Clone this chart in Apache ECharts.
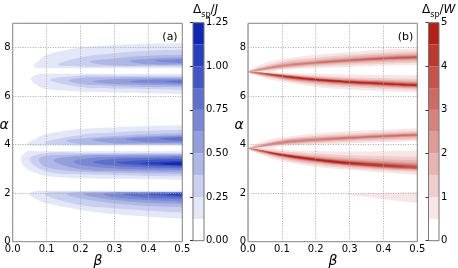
<!DOCTYPE html>
<html><head><meta charset="utf-8">
<script src="https://cdn.jsdelivr.net/npm/echarts@6/dist/echarts.min.js"></script>
<style>html,body{margin:0;padding:0;background:#fff}#c{width:458px;height:268px}</style>
</head><body><div id="c"></div><script>
// ---- axes / levels ----
const BETA_TICKS = [0.0, 0.1, 0.2, 0.3, 0.4, 0.5];
const ALPHA_TICKS = [0, 2, 4, 6, 8];
const J_LEVELS = [0, 0.125, 0.25, 0.375, 0.5, 0.625, 0.75, 0.875, 1.0, 1.125, 1.25];
const J_TICKS = [0, 0.25, 0.5, 0.75, 1.0, 1.25];
const W_LEVELS = [0, 0.5, 1, 1.5, 2, 2.5, 3, 3.5, 4, 4.5, 5];
const W_TICKS = [0, 1, 2, 3, 4, 5];

// ---- panel (a): Δsp/J contour regions, [level, [[beta, alphaUpper, alphaLower], ...]] ----
const jLobeA = [
 [1, [[0.061,7.22,7.22],[0.08,7.5,7.15],[0.1,7.7,7.15],[0.2,8.0,7.15],[0.3,8.11,7.15],[0.4,8.16,7.15],[0.5,8.18,7.15]]],
 [2, [[0.134,7.29,7.29],[0.2,7.6,7.22],[0.3,7.77,7.22],[0.4,7.87,7.22],[0.5,7.91,7.22]]],
 [3, [[0.227,7.42,7.42],[0.3,7.55,7.26],[0.4,7.66,7.26],[0.5,7.7,7.26]]],
 [4, [[0.345,7.45,7.45],[0.4,7.53,7.31],[0.5,7.6,7.31]]],
 [5, [[0.42,7.46,7.46],[0.5,7.52,7.36]]]
];
const jLobeB = [
 [1, [[0.054,6.71,6.71],[0.08,6.92,6.37],[0.1,6.92,6.29],[0.2,6.92,6.19],[0.3,6.92,6.15],[0.4,6.92,6.12],[0.5,6.92,6.09]]],
 [2, [[0.11,6.67,6.67],[0.2,6.84,6.37],[0.3,6.84,6.31],[0.4,6.84,6.29],[0.5,6.84,6.26]]],
 [3, [[0.164,6.64,6.64],[0.2,6.75,6.5],[0.3,6.78,6.42],[0.4,6.78,6.38],[0.5,6.78,6.37]]],
 [4, [[0.237,6.6,6.6],[0.3,6.7,6.5],[0.4,6.73,6.46],[0.5,6.73,6.44]]],
 [5, [[0.345,6.59,6.59],[0.4,6.67,6.53],[0.5,6.68,6.5]]],
 [6, [[0.45,6.6,6.6],[0.5,6.64,6.55]]]
];
const jLobeC = [
 [1, [[0.041,3.99,3.99],[0.071,4.27,3.95],[0.1,4.44,3.95],[0.2,4.64,3.95],[0.3,4.72,3.95],[0.4,4.77,3.95],[0.5,4.8,3.95]]],
 [2, [[0.095,4.08,4.08],[0.2,4.4,3.99],[0.3,4.5,3.99],[0.4,4.57,3.99],[0.5,4.61,3.99]]],
 [3, [[0.159,4.17,4.17],[0.2,4.25,4.03],[0.3,4.36,4.03],[0.4,4.43,4.03],[0.5,4.47,4.03]]],
 [4, [[0.237,4.2,4.2],[0.3,4.28,4.06],[0.4,4.35,4.06],[0.5,4.39,4.06]]],
 [5, [[0.335,4.22,4.22],[0.4,4.3,4.1],[0.5,4.35,4.1]]],
 [6, [[0.433,4.24,4.24],[0.5,4.3,4.15]]]
];
const jLobeD = [
 [1, [[0.024,3.4,3.4],[0.04,3.71,3.03],[0.07,3.73,2.82],[0.1,3.73,2.71],[0.2,3.73,2.61],[0.3,3.73,2.59],[0.4,3.73,2.57],[0.5,3.73,2.55]]],
 [2, [[0.049,3.4,3.4],[0.1,3.66,2.89],[0.2,3.66,2.78],[0.3,3.66,2.74],[0.4,3.66,2.71],[0.5,3.66,2.7]]],
 [3, [[0.077,3.38,3.38],[0.1,3.54,3.07],[0.2,3.59,2.89],[0.3,3.6,2.84],[0.4,3.6,2.81],[0.5,3.6,2.79]]],
 [4, [[0.121,3.35,3.35],[0.2,3.54,2.99],[0.3,3.57,2.92],[0.4,3.58,2.89],[0.5,3.58,2.88]]],
 [5, [[0.179,3.3,3.3],[0.2,3.4,3.16],[0.3,3.5,3.02],[0.4,3.51,2.98],[0.5,3.53,2.97]]],
 [6, [[0.237,3.28,3.28],[0.3,3.41,3.13],[0.4,3.45,3.06],[0.5,3.47,3.03]]],
 [7, [[0.306,3.26,3.26],[0.4,3.37,3.13],[0.5,3.4,3.09]]],
 [8, [[0.375,3.23,3.23],[0.5,3.33,3.13]]],
 [9, [[0.434,3.2,3.2],[0.5,3.27,3.15]]]
];
const jLobeE = [
 [1, [[0.049,1.97,1.97],[0.074,2.1,1.72],[0.1,2.1,1.58],[0.2,2.1,1.31],[0.3,2.1,1.14],[0.4,2.1,1.03],[0.5,2.1,0.96]]],
 [2, [[0.095,1.97,1.97],[0.2,2.06,1.51],[0.3,2.06,1.38],[0.4,2.06,1.28],[0.5,2.06,1.21]]],
 [3, [[0.159,1.97,1.97],[0.2,2.04,1.79],[0.3,2.04,1.58],[0.4,2.04,1.47],[0.5,2.04,1.42]]],
 [4, [[0.208,1.97,1.97],[0.3,2.03,1.72],[0.4,2.03,1.6],[0.5,2.03,1.55]]],
 [5, [[0.267,1.97,1.97],[0.3,2.02,1.83],[0.4,2.02,1.72],[0.5,2.02,1.66]]],
 [6, [[0.326,1.97,1.97],[0.4,2.02,1.81],[0.5,2.02,1.76]]],
 [7, [[0.394,1.97,1.97],[0.5,2.02,1.84]]],
 [8, [[0.453,1.97,1.97],[0.5,2.01,1.9]]]
];

// ---- panel (b): Δsp/W contour regions ----
const wUpA = [
 [1, [[0,7.0,7.0],[0.05,7.36,6.95],[0.1,7.52,7.08],[0.2,7.7,7.15],[0.3,7.81,7.2],[0.4,7.91,7.25],[0.5,7.96,7.28]]],
 [2, [[0,7.0,7.0],[0.1,7.42,7.12],[0.2,7.58,7.22],[0.3,7.7,7.28],[0.4,7.79,7.33],[0.5,7.85,7.36]]],
 [3, [[0,7.0,7.0],[0.1,7.35,7.16],[0.2,7.5,7.27],[0.3,7.62,7.35],[0.4,7.71,7.41],[0.5,7.77,7.44]]],
 [4, [[0,7.0,7.0],[0.1,7.3,7.19],[0.2,7.45,7.31],[0.3,7.56,7.4],[0.4,7.65,7.46],[0.5,7.71,7.5]]],
 [5, [[0.01,7.02,7.02],[0.1,7.28,7.21],[0.2,7.42,7.34],[0.3,7.52,7.43],[0.4,7.61,7.5],[0.5,7.67,7.54]]],
 [6, [[0.12,7.27,7.27],[0.2,7.4,7.36],[0.3,7.5,7.45],[0.4,7.59,7.52],[0.5,7.64,7.56]]],
 [7, [[0.33,7.5,7.5],[0.4,7.57,7.53],[0.5,7.62,7.57]]]
];
const wUpB = [
 [1, [[0,7.0,7.0],[0.05,7.05,6.74],[0.1,6.96,6.6],[0.2,6.92,6.38],[0.3,6.89,6.27],[0.4,6.87,6.2],[0.5,6.86,6.15]]],
 [2, [[0,7.0,7.0],[0.1,6.92,6.66],[0.2,6.84,6.47],[0.3,6.78,6.37],[0.4,6.74,6.3],[0.5,6.72,6.25]]],
 [3, [[0,7.0,7.0],[0.1,6.9,6.7],[0.2,6.8,6.53],[0.3,6.72,6.43],[0.4,6.67,6.36],[0.5,6.63,6.3]]],
 [4, [[0,7.0,7.0],[0.1,6.89,6.73],[0.2,6.77,6.57],[0.3,6.69,6.47],[0.4,6.63,6.4],[0.5,6.59,6.34]]],
 [5, [[0,7.0,7.0],[0.1,6.88,6.76],[0.2,6.75,6.6],[0.3,6.66,6.5],[0.4,6.6,6.43],[0.5,6.55,6.37]]],
 [6, [[0.01,6.99,6.99],[0.1,6.87,6.78],[0.2,6.73,6.62],[0.3,6.64,6.52],[0.4,6.58,6.45],[0.5,6.52,6.39]]],
 [7, [[0.03,6.96,6.96],[0.1,6.86,6.79],[0.2,6.72,6.64],[0.3,6.62,6.54],[0.4,6.56,6.47],[0.5,6.5,6.41]]],
 [8, [[0.05,6.93,6.93],[0.1,6.85,6.8],[0.2,6.71,6.65],[0.3,6.61,6.55],[0.4,6.54,6.48],[0.5,6.48,6.42]]],
 [9, [[0.08,6.87,6.87],[0.2,6.7,6.66],[0.3,6.6,6.56],[0.4,6.53,6.49],[0.5,6.47,6.43]]]
];
const wLoA = [
 [1, [[0,3.85,3.85],[0.05,4.16,3.8],[0.1,4.3,3.93],[0.2,4.46,4.0],[0.3,4.55,4.05],[0.4,4.61,4.1],[0.5,4.66,4.14]]],
 [2, [[0,3.85,3.85],[0.1,4.22,3.98],[0.2,4.37,4.06],[0.3,4.45,4.12],[0.4,4.51,4.17],[0.5,4.56,4.2]]],
 [3, [[0,3.85,3.85],[0.1,4.18,4.01],[0.2,4.31,4.1],[0.3,4.39,4.17],[0.4,4.45,4.23],[0.5,4.5,4.27]]],
 [4, [[0.01,3.87,3.87],[0.1,4.15,4.03],[0.2,4.27,4.14],[0.3,4.35,4.21],[0.4,4.42,4.28],[0.5,4.46,4.32]]],
 [5, [[0.03,3.92,3.92],[0.1,4.12,4.05],[0.2,4.24,4.16],[0.3,4.32,4.24],[0.4,4.39,4.31],[0.5,4.44,4.36]]],
 [6, [[0.22,4.21,4.21],[0.3,4.3,4.26],[0.4,4.37,4.33],[0.5,4.42,4.38]]]
];
const wLoB = [
 [1, [[0,3.85,3.85],[0.05,3.9,3.52],[0.1,3.8,3.32],[0.2,3.74,3.09],[0.3,3.72,2.96],[0.4,3.73,2.85],[0.5,3.76,2.76]]],
 [2, [[0,3.85,3.85],[0.1,3.73,3.4],[0.2,3.63,3.17],[0.3,3.56,3.03],[0.4,3.52,2.94],[0.5,3.5,2.87]]],
 [3, [[0,3.85,3.85],[0.1,3.68,3.45],[0.2,3.55,3.23],[0.3,3.46,3.09],[0.4,3.4,2.99],[0.5,3.36,2.93]]],
 [4, [[0,3.85,3.85],[0.1,3.65,3.49],[0.2,3.5,3.27],[0.3,3.39,3.13],[0.4,3.32,3.03],[0.5,3.26,2.97]]],
 [5, [[0,3.85,3.85],[0.1,3.63,3.51],[0.2,3.47,3.3],[0.3,3.35,3.15],[0.4,3.27,3.05],[0.5,3.2,2.99]]],
 [6, [[0.01,3.83,3.83],[0.1,3.62,3.53],[0.2,3.45,3.32],[0.3,3.32,3.17],[0.4,3.23,3.07],[0.5,3.15,3.0]]],
 [7, [[0.02,3.81,3.81],[0.1,3.61,3.54],[0.2,3.43,3.33],[0.3,3.3,3.18],[0.4,3.2,3.09],[0.5,3.12,3.02]]],
 [8, [[0.04,3.76,3.76],[0.1,3.6,3.55],[0.2,3.42,3.35],[0.3,3.28,3.2],[0.4,3.18,3.1],[0.47,3.1,3.1]]],
 [9, [[0.06,3.7,3.7],[0.1,3.6,3.56],[0.2,3.41,3.36],[0.3,3.26,3.22],[0.34,3.22,3.22]]]
];
const wPatch = [
 [1, [[0.29,1.95,1.95],[0.35,2.0,1.85],[0.4,2.02,1.76],[0.5,2.05,1.6]]]
];

// ---- colours ----
const BLUE_END = [13, 39, 179];
const RED_END = [180, 32, 24];
function shade(end, k) {
  const t = k / 9;
  return 'rgb(' + end.map(c => Math.round(255 + (c - 255) * t)).join(',') + ')';
}

const FONT = 'DejaVu Sans';
const el = document.getElementById('c');
const chart = echarts.init(el, null, {renderer: 'canvas'});

function contourSeries(lists, axisIdx, end) {
  const all = [].concat(...lists).slice().sort((a, b) => a[0] - b[0]);
  return {
    type: 'custom', xAxisIndex: axisIdx, yAxisIndex: axisIdx, clip: true, silent: true, z: 1,
    data: all.map(c => [c[1][0][0], c[1][0][1]]),
    renderItem: function (params, api) {
      const c = all[params.dataIndex];
      const P = c[1].slice();
      const last = P[P.length - 1];
      if (last[0] >= 0.5) P.push([0.57, last[1], last[2]]);
      const upper = P.map(p => api.coord([p[0], p[1]]));
      const lower = [];
      P.forEach((p, i) => {
        if ((i === 0 || i === P.length - 1) && p[1] === p[2]) return;
        lower.push(api.coord([p[0], p[2]]));
      });
      lower.reverse();
      return {type: 'polygon', shape: {points: upper.concat(lower), smooth: 0.4},
              style: {fill: shade(end, c[0]), stroke: null}};
    }
  };
}

function colorbarSeries(levels, axisIdx, end) {
  return {
    type: 'custom', xAxisIndex: axisIdx, yAxisIndex: axisIdx, silent: true, z: 1,
    data: levels.slice(0, -1).map((v, k) => [k, v]),
    renderItem: function (params, api) {
      const k = params.dataIndex;
      const p0 = api.coord([0, levels[k]]);
      const p1 = api.coord([1, levels[k + 1]]);
      return {type: 'rect', shape: {x: p0[0], y: p1[1], width: p1[0] - p0[0], height: p0[1] - p1[1]},
              style: {fill: k === 0 ? '#ffffff' : shade(end, k), stroke: null}};
    }
  };
}

const gridCommon = {show: true, borderColor: '#777', borderWidth: 1, backgroundColor: 'transparent', z: 3, containLabel: false};
const labelStyle = {fontSize: 10, color: '#000', fontFamily: FONT};
const splitStyle = {show: true, lineStyle: {type: [1, 1.5], color: '#aaa', width: 1}};

function betaAxis(i) {
  return {gridIndex: i, type: 'value', min: BETA_TICKS[0], max: BETA_TICKS[BETA_TICKS.length - 1],
    interval: BETA_TICKS[1] - BETA_TICKS[0], z: 4,
    axisLine: {show: false}, axisTick: {show: false}, splitLine: splitStyle,
    axisLabel: Object.assign({margin: 3, formatter: v => v.toFixed(1)}, labelStyle)};
}
function alphaAxis(i) {
  return {gridIndex: i, type: 'value', min: 0, max: 9, interval: ALPHA_TICKS[1] - ALPHA_TICKS[0], z: 4,
    axisLine: {show: false}, axisTick: {show: false}, splitLine: splitStyle,
    axisLabel: Object.assign({margin: 2, showMaxLabel: false}, labelStyle)};
}
function cbAxis(i, levels, ticks, digits) {
  return {gridIndex: i, type: 'value', position: 'right', min: ticks[0], max: ticks[ticks.length - 1],
    interval: ticks[1] - ticks[0], z: 4,
    axisLine: {show: false}, splitLine: {show: false},
    axisTick: {show: true, inside: true, length: 3, lineStyle: {color: '#333'}},
    axisLabel: Object.assign({margin: 2, formatter: v => v.toFixed(digits)}, labelStyle)};
}

const option = {
  animation: false,
  backgroundColor: '#fff',
  grid: [
    Object.assign({left: 12.7, top: 23.3, width: 169.6, height: 218.4}, gridCommon),
    Object.assign({left: 248, top: 23.3, width: 169.3, height: 218.4}, gridCommon),
    Object.assign({left: 193, top: 22.7, width: 11, height: 218}, gridCommon),
    Object.assign({left: 428.5, top: 22.7, width: 10.5, height: 218}, gridCommon)
  ],
  xAxis: [betaAxis(0), betaAxis(1),
    {gridIndex: 2, type: 'value', min: 0, max: 1, show: false},
    {gridIndex: 3, type: 'value', min: 0, max: 1, show: false}],
  yAxis: [alphaAxis(0), alphaAxis(1),
    cbAxis(2, J_LEVELS, J_TICKS, 2), cbAxis(3, W_LEVELS, W_TICKS, 0)],
  series: [
    contourSeries([jLobeA, jLobeB, jLobeC, jLobeD, jLobeE], 0, BLUE_END),
    contourSeries([wUpA, wUpB, wLoA, wLoB, wPatch], 1, RED_END),
    colorbarSeries(J_LEVELS, 2, BLUE_END),
    colorbarSeries(W_LEVELS, 3, RED_END)
  ],
  graphic: [
    {type: 'text', x: 4, y: 125, z: 10, style: {text: 'α', font: 'italic 14px "DejaVu Sans"', fill: '#000', textAlign: 'center', textVerticalAlign: 'middle'}},
    {type: 'text', x: 239, y: 125, z: 10, style: {text: 'α', font: 'italic 14px "DejaVu Sans"', fill: '#000', textAlign: 'center', textVerticalAlign: 'middle'}},
    {type: 'text', x: 98, y: 261, z: 10, style: {text: 'β', font: 'italic 14px "DejaVu Sans"', fill: '#000', textAlign: 'center', textVerticalAlign: 'middle'}},
    {type: 'text', x: 333, y: 261, z: 10, style: {text: 'β', font: 'italic 14px "DejaVu Sans"', fill: '#000', textAlign: 'center', textVerticalAlign: 'middle'}},
    {type: 'text', x: 170, y: 37, z: 10, style: {text: '(a)', font: '11px "DejaVu Sans"', fill: '#000', textAlign: 'center', textVerticalAlign: 'middle'}},
    {type: 'text', x: 405.5, y: 37, z: 10, style: {text: '(b)', font: '11px "DejaVu Sans"', fill: '#000', textAlign: 'center', textVerticalAlign: 'middle'}},
    {type: 'text', x: 193, y: 1, z: 10, style: {text: 'Δ{s|sp}/{i|J}', fill: '#000', font: '12px "DejaVu Sans"',
      rich: {s: {fontSize: 8, fontFamily: FONT, verticalAlign: 'bottom', lineHeight: 18}, i: {fontSize: 12, fontStyle: 'italic', fontFamily: FONT}}}},
    {type: 'text', x: 422, y: 1, z: 10, style: {text: 'Δ{s|sp}/{i|W}', fill: '#000', font: '12px "DejaVu Sans"',
      rich: {s: {fontSize: 8, fontFamily: FONT, verticalAlign: 'bottom', lineHeight: 18}, i: {fontSize: 12, fontStyle: 'italic', fontFamily: FONT}}}}
  ]
};
chart.setOption(option);
</script></body></html>
